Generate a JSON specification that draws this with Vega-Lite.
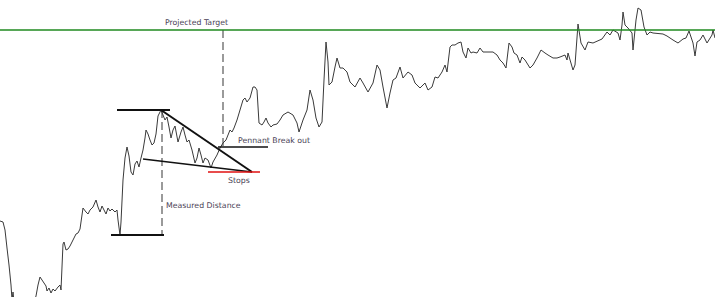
{
  "$schema": "https://vega.github.io/schema/vega-lite/v6.json",
  "width": 715,
  "height": 297,
  "padding": 0,
  "autosize": {"type": "none"},
  "background": "white",
  "config": {"view": {"stroke": null}},
  "datasets": {
    "price": [
      {"x":0,"y":221},{"x":3,"y":222},{"x":5,"y":230},{"x":7,"y":248},{"x":9,"y":265},{"x":11,"y":285},{"x":12,"y":300},{"x":13,"y":292},{"x":14,"y":302},{"x":17,"y":310},{"x":25,"y":315},{"x":33,"y":305},{"x":36,"y":296},{"x":38,"y":285},{"x":40,"y":277},{"x":42,"y":280},{"x":44,"y":283},{"x":46,"y":286},{"x":47,"y":291},{"x":49,"y":288},{"x":51,"y":293},{"x":53,"y":289},{"x":55,"y":291},{"x":58,"y":287},{"x":60,"y":285},{"x":61,"y":290},{"x":63,"y":244},{"x":64,"y":242},{"x":66,"y":250},{"x":68,"y":249},{"x":70,"y":246},{"x":73,"y":240},{"x":76,"y":234},{"x":78,"y":233},{"x":80,"y":229},{"x":83,"y":208},{"x":86,"y":212},{"x":88,"y":214},{"x":90,"y":210},{"x":93,"y":207},{"x":96,"y":200},{"x":98,"y":207},{"x":100,"y":212},{"x":102,"y":206},{"x":104,"y":210},{"x":106,"y":214},{"x":108,"y":208},{"x":110,"y":211},{"x":112,"y":209},{"x":115,"y":212},{"x":117,"y":210},{"x":118,"y":220},{"x":120,"y":235},{"x":121,"y":222},{"x":123,"y":180},{"x":125,"y":158},{"x":127,"y":147},{"x":129,"y":156},{"x":131,"y":172},{"x":133,"y":175},{"x":135,"y":164},{"x":137,"y":161},{"x":139,"y":167},{"x":141,"y":158},{"x":143,"y":150},{"x":145,"y":138},{"x":146,"y":130},{"x":148,"y":134},{"x":150,"y":140},{"x":152,"y":145},{"x":154,"y":143},{"x":156,"y":134},{"x":158,"y":116},{"x":161,"y":110},{"x":163,"y":115},{"x":165,"y":120},{"x":167,"y":117},{"x":169,"y":127},{"x":171,"y":138},{"x":173,"y":130},{"x":175,"y":126},{"x":178,"y":142},{"x":181,"y":132},{"x":183,"y":127},{"x":185,"y":135},{"x":187,"y":142},{"x":189,"y":140},{"x":192,"y":150},{"x":195,"y":163},{"x":197,"y":158},{"x":199,"y":148},{"x":201,"y":155},{"x":203,"y":163},{"x":205,"y":158},{"x":208,"y":160},{"x":211,"y":168},{"x":213,"y":162},{"x":217,"y":155},{"x":220,"y":148},{"x":223,"y":143},{"x":226,"y":140},{"x":230,"y":130},{"x":232,"y":132},{"x":234,"y":128},{"x":237,"y":120},{"x":240,"y":110},{"x":243,"y":100},{"x":245,"y":98},{"x":247,"y":102},{"x":250,"y":98},{"x":253,"y":87},{"x":255,"y":87},{"x":257,"y":90},{"x":259,"y":123},{"x":262,"y":125},{"x":264,"y":122},{"x":266,"y":118},{"x":268,"y":123},{"x":271,"y":127},{"x":273,"y":125},{"x":277,"y":124},{"x":280,"y":120},{"x":283,"y":115},{"x":288,"y":112},{"x":293,"y":115},{"x":297,"y":123},{"x":299,"y":132},{"x":303,"y":120},{"x":307,"y":110},{"x":310,"y":90},{"x":313,"y":100},{"x":316,"y":118},{"x":319,"y":127},{"x":322,"y":122},{"x":324,"y":80},{"x":326,"y":42},{"x":328,"y":62},{"x":329,"y":85},{"x":332,"y":82},{"x":335,"y":67},{"x":337,"y":58},{"x":340,"y":68},{"x":343,"y":68},{"x":347,"y":72},{"x":350,"y":82},{"x":355,"y":87},{"x":360,"y":78},{"x":363,"y":83},{"x":368,"y":92},{"x":373,"y":83},{"x":377,"y":65},{"x":380,"y":70},{"x":383,"y":87},{"x":387,"y":108},{"x":390,"y":93},{"x":393,"y":80},{"x":396,"y":78},{"x":400,"y":67},{"x":403,"y":78},{"x":408,"y":72},{"x":412,"y":75},{"x":415,"y":83},{"x":420,"y":88},{"x":425,"y":83},{"x":428,"y":90},{"x":432,"y":87},{"x":435,"y":77},{"x":438,"y":78},{"x":442,"y":72},{"x":445,"y":65},{"x":447,"y":72},{"x":450,"y":47},{"x":452,"y":45},{"x":455,"y":45},{"x":458,"y":43},{"x":461,"y":42},{"x":463,"y":52},{"x":466,"y":58},{"x":468,"y":48},{"x":471,"y":53},{"x":473,"y":52},{"x":477,"y":53},{"x":480,"y":48},{"x":483,"y":52},{"x":493,"y":52},{"x":497,"y":55},{"x":500,"y":60},{"x":503,"y":63},{"x":506,"y":68},{"x":509,"y":43},{"x":512,"y":47},{"x":514,"y":53},{"x":517,"y":55},{"x":520,"y":63},{"x":522,"y":57},{"x":525,"y":60},{"x":530,"y":68},{"x":533,"y":65},{"x":537,"y":58},{"x":541,"y":50},{"x":545,"y":53},{"x":548,"y":55},{"x":553,"y":58},{"x":557,"y":58},{"x":560,"y":57},{"x":565,"y":55},{"x":567,"y":60},{"x":568,"y":53},{"x":573,"y":70},{"x":575,"y":65},{"x":578,"y":24},{"x":581,"y":43},{"x":585,"y":50},{"x":588,"y":42},{"x":593,"y":43},{"x":602,"y":39},{"x":607,"y":32},{"x":610,"y":35},{"x":613,"y":30},{"x":618,"y":33},{"x":620,"y":40},{"x":622,"y":25},{"x":623,"y":12},{"x":625,"y":25},{"x":628,"y":28},{"x":632,"y":33},{"x":633,"y":50},{"x":636,"y":20},{"x":638,"y":8},{"x":641,"y":10},{"x":644,"y":27},{"x":647,"y":35},{"x":650,"y":32},{"x":653,"y":33},{"x":663,"y":34},{"x":667,"y":36},{"x":673,"y":40},{"x":678,"y":43},{"x":683,"y":39},{"x":686,"y":38},{"x":689,"y":31},{"x":693,"y":43},{"x":695,"y":56},{"x":697,"y":42},{"x":700,"y":40},{"x":703,"y":35},{"x":707,"y":43},{"x":712,"y":35},{"x":713,"y":30},{"x":715,"y":38}
    ],
    "target": [{"x": 0, "x2": 715, "y": 30, "y2": 30}],
    "dashed": [
      {"x": 223, "x2": 223, "y": 30, "y2": 147},
      {"x": 162, "x2": 162, "y": 110, "y2": 235}
    ],
    "levels": [
      {"x": 117, "x2": 170, "y": 110, "y2": 110},
      {"x": 111, "x2": 164, "y": 235, "y2": 235},
      {"x": 161, "x2": 252, "y": 110, "y2": 172}
    ],
    "thin": [
      {"x": 143, "x2": 252, "y": 159, "y2": 172},
      {"x": 218, "x2": 268, "y": 147, "y2": 147}
    ],
    "stop": [{"x": 208, "x2": 260, "y": 172, "y2": 172}],
    "labels": [
      {"x": 165, "y": 23, "t": "Projected Target"},
      {"x": 238, "y": 141, "t": "Pennant Break out"},
      {"x": 228, "y": 181, "t": "Stops"},
      {"x": 166, "y": 206, "t": "Measured Distance"}
    ]
  },
  "layer": [
    {
      "data": {"name": "dashed"},
      "mark": {"type": "rule", "color": "#9a9a9a", "strokeWidth": 2, "strokeDash": [8, 4]},
      "encoding": {
        "x": {"field": "x", "type": "quantitative", "scale": {"domain": [0, 715], "nice": false, "zero": false}, "axis": null},
        "x2": {"field": "x2"},
        "y": {"field": "y", "type": "quantitative", "scale": {"domain": [0, 297], "nice": false, "zero": false, "reverse": true}, "axis": null},
        "y2": {"field": "y2"}
      }
    },
    {
      "data": {"name": "price"},
      "mark": {"type": "line", "color": "#3a3a3a", "strokeWidth": 1, "clip": true},
      "encoding": {
        "x": {"field": "x", "type": "quantitative"},
        "y": {"field": "y", "type": "quantitative"}
      }
    },
    {
      "data": {"name": "target"},
      "mark": {"type": "rule", "color": "#1f8a1f", "strokeWidth": 1.5},
      "encoding": {"x": {"field": "x", "type": "quantitative"}, "x2": {"field": "x2"}, "y": {"field": "y", "type": "quantitative"}, "y2": {"field": "y2"}}
    },
    {
      "data": {"name": "levels"},
      "mark": {"type": "rule", "color": "#111111", "strokeWidth": 2},
      "encoding": {"x": {"field": "x", "type": "quantitative"}, "x2": {"field": "x2"}, "y": {"field": "y", "type": "quantitative"}, "y2": {"field": "y2"}}
    },
    {
      "data": {"name": "thin"},
      "mark": {"type": "rule", "color": "#111111", "strokeWidth": 1.5},
      "encoding": {"x": {"field": "x", "type": "quantitative"}, "x2": {"field": "x2"}, "y": {"field": "y", "type": "quantitative"}, "y2": {"field": "y2"}}
    },
    {
      "data": {"name": "stop"},
      "mark": {"type": "rule", "color": "#e01010", "strokeWidth": 1.5},
      "encoding": {"x": {"field": "x", "type": "quantitative"}, "x2": {"field": "x2"}, "y": {"field": "y", "type": "quantitative"}, "y2": {"field": "y2"}}
    },
    {
      "data": {"name": "labels"},
      "mark": {"type": "text", "align": "left", "baseline": "middle", "font": "DejaVu Sans", "fontSize": 7.8, "color": "#4a3f55"},
      "encoding": {"x": {"field": "x", "type": "quantitative"}, "y": {"field": "y", "type": "quantitative"}, "text": {"field": "t"}}
    }
  ]
}
